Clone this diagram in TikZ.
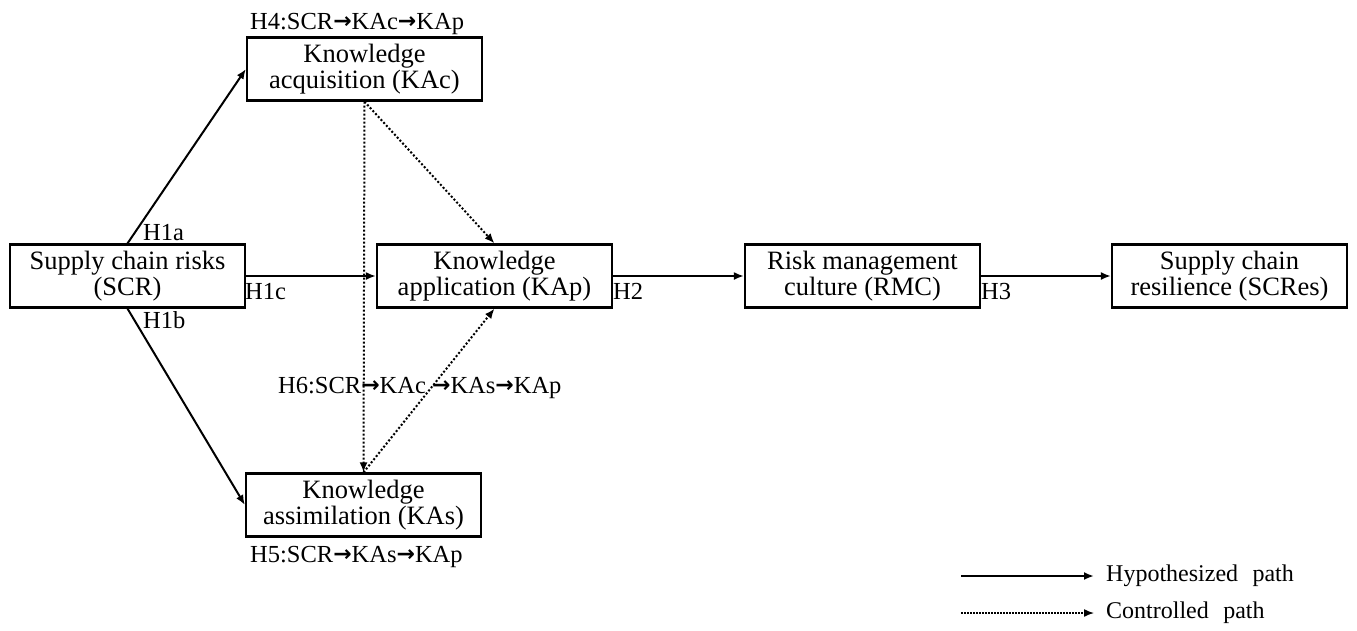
\documentclass[tikz,border=0pt]{standalone}
\usepackage{fontspec}
\setmainfont{Liberation Serif}
\newfontfamily\arrowfont{DejaVu Sans}
\usetikzlibrary{arrows.meta}
\newcommand{\ar}{{\arrowfont\bfseries\fontsize{22}{22}\selectfont\raisebox{0.5pt}{→}}}
\begin{document}
\begin{tikzpicture}[x=1pt,y=-1pt,
  box/.style={draw,line width=2.2pt,minimum width=235pt,minimum height=63pt,inner sep=0pt,
    align=center,font=\fontsize{26.5}{26}\selectfont},
  lbl/.style={font=\fontsize{24.5}{25}\selectfont,inner sep=0pt,anchor=base west},
  hyp/.style={line width=2pt,-{Latex[length=10pt,width=8pt]}},
  ctl/.style={line width=2pt,dash pattern=on 2pt off 2pt,-{Latex[length=10pt,width=8pt]}}]
\useasboundingbox (0,0) rectangle (1357,630);

\node[box] (kac) at (364.5,69) {Knowledge\\acquisition (KAc)};
\node[box] (scr) at (127.5,276) {Supply chain risks\\(SCR)};
\node[box] (kap) at (494.5,276) {Knowledge\\application (KAp)};
\node[box] (rmc) at (862.5,276) {Risk management\\culture (RMC)};
\node[box] (scres) at (1229.5,276) {Supply chain\\resilience (SCRes)};
\node[box] (kas) at (363.5,505) {Knowledge\\assimilation (KAs)};

\draw[hyp] (scr.north) -- (kac.west);
\draw[hyp] (scr.south) -- (kas.west);
\draw[hyp] (scr.east) -- (kap.west);
\draw[hyp] (kap.east) -- (rmc.west);
\draw[hyp] (rmc.east) -- (scres.west);

\draw[ctl] (kac.south) -- (kas.north);
\draw[ctl] (kac.south) -- (kap.north);
\draw[ctl] (kas.north) -- (kap.south);

\node[lbl] (h4) at (250,29) {H4:SCR\ar KAc\ar KAp};
\node[lbl] (h1a) at (143,240) {H1a};
\node[lbl] (h1b) at (143,328) {H1b};
\node[lbl] (h1c) at (245,299) {H1c};
\node[lbl] (h2) at (613,299) {H2};
\node[lbl] (h3) at (981,299) {H3};
\node[lbl] (h6) at (278,393) {H6:SCR\ar KAc \ar KAs\ar KAp};
\node[lbl] (h5) at (250,562) {H5:SCR\ar KAs\ar KAp};

\coordinate (l1a) at (961,576);
\coordinate (l1b) at (1094,576);
\coordinate (l2a) at (961,613);
\coordinate (l2b) at (1094,613);
\draw[hyp] (l1a) -- (l1b);
\draw[line width=1.5pt,dash pattern=on 1.5pt off 1.5pt,-{Latex[length=10pt,width=8pt]}] (l2a) -- (l2b);
\node[font=\fontsize{24}{24}\selectfont,inner sep=0pt,anchor=west] (t1) at (1106,576) {Hypothesized\hspace{0.35em} path};
\node[font=\fontsize{24}{24}\selectfont,inner sep=0pt,anchor=west] (t2) at (1106,613) {Controlled\hspace{0.35em} path};
\end{tikzpicture}
\end{document}
